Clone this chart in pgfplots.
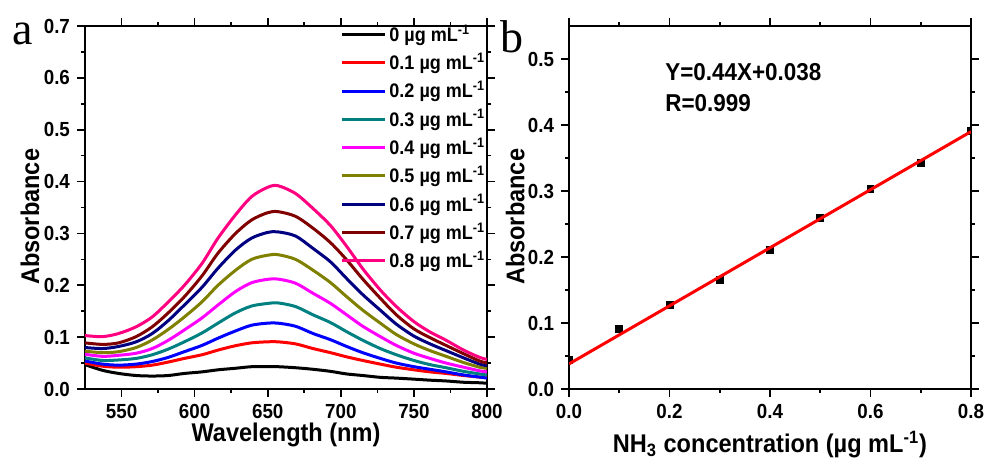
\documentclass[border=0pt]{standalone}
\usepackage{fontspec}
\setmainfont{Liberation Sans}[FakeStretch=0.92]
\newfontfamily\seriffont{Liberation Serif}
\usepackage{pgfplots}
\pgfplotsset{compat=1.18}
\usepackage{pgfplotstable}

\definecolor{cteal}{RGB}{0,128,128}
\definecolor{cmag}{RGB}{255,0,255}
\definecolor{colive}{RGB}{128,128,0}
\definecolor{cnavy}{RGB}{0,0,128}
\definecolor{cmaroon}{RGB}{128,0,0}
\definecolor{cpink}{RGB}{255,0,128}

\pgfplotstableread{
wl  c0     c1     c2    c3     c4     c5     c6    c7    c8
525 0.047  0.050  0.054 0.060  0.067  0.073  0.080 0.089 0.103
537 0.036  0.044  0.048 0.055  0.063  0.070  0.078 0.086 0.101
548 0.030  0.042  0.046 0.056  0.065  0.072  0.082 0.089 0.107
560 0.026  0.043  0.048 0.059  0.069  0.080  0.091 0.101 0.120
571 0.025  0.046  0.053 0.066  0.078  0.0945 0.107 0.120 0.139
582 0.026  0.052  0.061 0.077  0.094  0.115  0.132 0.147 0.168
593 0.030  0.059  0.072 0.091  0.114  0.139  0.162 0.178 0.200
605 0.033  0.066  0.084 0.108  0.137  0.168  0.196 0.218 0.242
616 0.037  0.075  0.098 0.127  0.162  0.200  0.233 0.262 0.291
628 0.040  0.0835 0.112 0.147  0.188  0.229  0.268 0.300 0.336
639 0.043  0.089  0.123 0.160  0.205  0.250  0.291 0.326 0.371
650 0.043  0.091  0.127 0.165  0.2115 0.258  0.302 0.340 0.389
657 0.043  0.091  0.127 0.166  0.212  0.259  0.303 0.342 0.392
669 0.041  0.087  0.121 0.159  0.204  0.250  0.295 0.333 0.377
681 0.038  0.078  0.107 0.143  0.1845 0.229  0.271 0.310 0.348
693 0.034  0.070  0.095 0.128  0.165  0.205  0.245 0.282 0.315
704 0.029  0.062  0.082 0.1105 0.143  0.178  0.213 0.249 0.275
715 0.026  0.055  0.070 0.094  0.121  0.152  0.182 0.212 0.232
727 0.0225 0.048  0.059 0.078  0.101  0.127  0.152 0.175 0.191
738 0.021  0.042  0.050 0.066  0.084  0.105  0.125 0.143 0.159
750 0.019  0.037  0.043 0.055  0.069  0.087  0.102 0.116 0.130
761 0.017  0.033  0.038 0.047  0.059  0.074  0.087 0.099 0.110
772 0.0155 0.030  0.033 0.041  0.050  0.063  0.074 0.084 0.094
784 0.013  0.026  0.027 0.034  0.042  0.051  0.060 0.068 0.075
795 0.012  0.023  0.023 0.029  0.035  0.042  0.048 0.054 0.061
800 0.011  0.022  0.021 0.027  0.033  0.040  0.045 0.050 0.057
}\spectra

\pgfplotstableread{
x   y
0.0 0.044
0.1 0.091
0.2 0.127
0.3 0.165
0.4 0.211
0.5 0.259
0.6 0.303
0.7 0.343
0.8 0.391
}\points

\begin{document}
\begin{tikzpicture}
\path[use as bounding box] (-42.5pt,-37.5pt) rectangle (452pt,194.5pt);
\pgfplotsset{
  every axis/.append style={
    scale only axis, width=201pt, height=181.5pt,
    axis line style={line width=0.8pt},
    every tick/.style={line width=0.8pt, black},
    major tick length=4pt, minor tick length=2pt,
    tick align=outside,
    xtick pos=both, ytick pos=both,
    minor x tick num=1, minor y tick num=1,
    /pgf/number format/assume math mode=true,
    tick label style={font=\bfseries\fontsize{10.2}{12}\selectfont},
    label style={font=\bfseries\fontsize{12.8}{15}\selectfont},
  }
}
\begin{axis}[
  at={(0pt,0pt)}, anchor=south west,
  xmin=525, xmax=800, ymin=0, ymax=0.7,
  xtick={550,600,650,700,750,800},
  ytick={0,0.1,0.2,0.3,0.4,0.5,0.6,0.7},
  yticklabel style={/pgf/number format/.cd, fixed, fixed zerofill, precision=1},
  xlabel={Wavelength (nm)},
  xlabel style={at={(axis description cs:0.5,-0.127)}, anchor=center},
  ylabel={Absorbance},
  ylabel style={at={(axis description cs:-0.137,0.474)}, anchor=center},
  legend cell align=left,
  legend image code/.code={\draw[#1] (0pt,0pt) -- (21.5pt,0pt);},
  legend style={at={(axis description cs:1.004,1.005)}, anchor=north east,
    draw=none, fill=none, inner sep=0pt, row sep=4.3pt,
    nodes={inner ysep=0pt, inner xsep=1.5pt},
    font=\bfseries\fontsize{9.8}{11}\selectfont},
]
\addplot[black,   line width=1.5pt, smooth] table[x=wl,y=c0] {\spectra};
\addlegendentry{0 µg mL\textsuperscript{-1}}
\addplot[red,     line width=1.5pt, smooth] table[x=wl,y=c1] {\spectra};
\addlegendentry{0.1 µg mL\textsuperscript{-1}}
\addplot[blue,    line width=1.5pt, smooth] table[x=wl,y=c2] {\spectra};
\addlegendentry{0.2 µg mL\textsuperscript{-1}}
\addplot[cteal,   line width=1.5pt, smooth] table[x=wl,y=c3] {\spectra};
\addlegendentry{0.3 µg mL\textsuperscript{-1}}
\addplot[cmag,    line width=1.5pt, smooth] table[x=wl,y=c4] {\spectra};
\addlegendentry{0.4 µg mL\textsuperscript{-1}}
\addplot[colive,  line width=1.5pt, smooth] table[x=wl,y=c5] {\spectra};
\addlegendentry{0.5 µg mL\textsuperscript{-1}}
\addplot[cnavy,   line width=1.5pt, smooth] table[x=wl,y=c6] {\spectra};
\addlegendentry{0.6 µg mL\textsuperscript{-1}}
\addplot[cmaroon, line width=1.5pt, smooth] table[x=wl,y=c7] {\spectra};
\addlegendentry{0.7 µg mL\textsuperscript{-1}}
\addplot[cpink,   line width=1.5pt, smooth] table[x=wl,y=c8] {\spectra};
\addlegendentry{0.8 µg mL\textsuperscript{-1}}
\end{axis}

\begin{axis}[
  at={(242pt,0pt)}, anchor=south west,
  xmin=0, xmax=0.8, ymin=0, ymax=0.55,
  xtick={0,0.2,0.4,0.6,0.8},
  ytick={0,0.1,0.2,0.3,0.4,0.5},
  xticklabel style={/pgf/number format/.cd, fixed, fixed zerofill, precision=1},
  yticklabel style={/pgf/number format/.cd, fixed, fixed zerofill, precision=1},
  xlabel={NH\textsubscript{3} concentration (µg mL\textsuperscript{-1})},
  xlabel style={at={(axis description cs:0.5,-0.154)}, anchor=center},
  ylabel={Absorbance},
  ylabel style={at={(axis description cs:-0.134,0.474)}, anchor=center},
  clip marker paths=true,
]
\addplot[only marks, mark=square*, mark size=1.7pt, black] table[x=x,y=y] {\points};
\addplot[red, line width=1.5pt] coordinates {(0,0.038) (0.8,0.390)};
\node[anchor=west, font=\bfseries\fontsize{12.2}{14}\selectfont] at (rel axis cs:0.222,0.873) {Y=0.44X+0.038};
\node[anchor=west, font=\bfseries\fontsize{12.2}{14}\selectfont] at (rel axis cs:0.222,0.788) {R=0.999};
\end{axis}

\node[anchor=base west, inner sep=0pt, font=\seriffont\fontsize{23}{26}\selectfont] at (-36.5pt,172pt) {a};
\node[anchor=base west, inner sep=0pt, font=\seriffont\fontsize{23}{26}\selectfont] at (207.5pt,168pt) {b};
\end{tikzpicture}
\end{document}
